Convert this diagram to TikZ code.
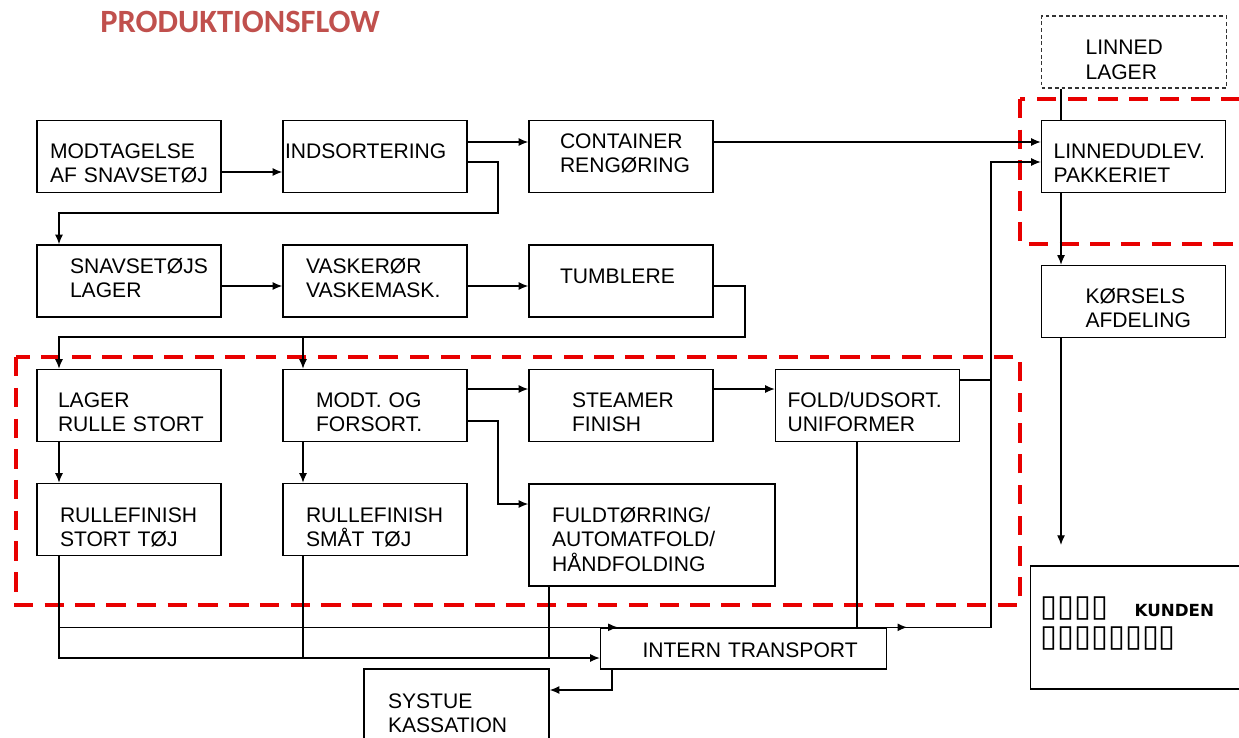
\documentclass[tikz,border=0pt]{standalone}
\usepackage{fontspec}
\setmainfont{Liberation Sans}
\newfontfamily\titlefont{Carlito}
\newfontfamily\symfont{DejaVu Sans}
\usetikzlibrary{arrows.meta}
\definecolor{titlered}{RGB}{192,80,77}
\definecolor{zonered}{RGB}{232,0,0}
\newcommand\tofu[1]{{\fontsize{17.5pt}{17.6pt}\selectfont #1}}

\begin{document}
\begin{tikzpicture}[
    x=0.02cm, y=-0.02cm,
    box/.style={draw=black, line width=0.8pt, minimum width=3.68cm,
        minimum height=1.44cm, inner sep=0pt, text width=3.68cm,
        align=left, font=\fontsize{12pt}{14.2pt}\selectfont, base=0.03cm},
    lpad/.style={execute at begin node={\leftskip=#1}},
    base/.style={text height=0.5cm+#1, text depth=0.5cm-#1},
    flow/.style={line width=0.7pt, -{Latex[length=5.5pt,width=4.5pt]}},
    link/.style={line width=0.7pt},
    zone/.style={draw=zonered, line width=2.8pt, dash pattern=on 11pt off 6.5pt}
]
    \clip (0,0) rectangle (1239,737);
    \node[font=\titlefont\bfseries\fontsize{18.5pt}{20pt}\selectfont, text=titlered,
        anchor=base west, inner sep=0pt] (title) at (100,32) {PRODUKTIONSFLOW};

    % red zones
    \draw[zone] (16,357) rectangle (1020,605);
    \draw[zone] (1020,99) rectangle (1262,244);

    % boxes
    \node[box, lpad=0.26cm] (modt) at (129,156.5) {MODTAGELSE\\AF SNAVSETØJ};
    \node[box, lpad=0.04cm] (indsort) at (375,156.5) {INDSORTERING};
    \node[box, lpad=0.62cm, base=-0.17cm] (cont) at (621,156.5) {CONTAINER\\RENGØRING};
    \node[box, lpad=0.88cm, base=0.06cm, draw=black!80, line width=0.6pt,
        dash pattern=on 2.2pt off 1.6pt, minimum width=3.7cm, text width=3.7cm]
        (llager) at (1134,52) {LINNED\\LAGER};
    \node[box, lpad=0.24cm] (lpak) at (1133.5,156.5) {LINNEDUDLEV.\\PAKKERIET};
    \node[box, lpad=0.66cm, base=-0.16cm] (snav) at (129,281) {SNAVSETØJS\\LAGER};
    \node[box, lpad=0.46cm, base=-0.16cm] (vask) at (375,281) {VASKERØR\\VASKEMASK.};
    \node[box, lpad=0.62cm, base=0.04cm] (tumb) at (621,281) {TUMBLERE};
    \node[box, lpad=0.88cm] (kors) at (1133.5,301.5) {KØRSELS\\AFDELING};
    \node[box, lpad=0.42cm] (lager) at (129,405.5) {LAGER\\RULLE STORT};
    \node[box, lpad=0.66cm] (forsort) at (375,405.5) {MODT. OG\\FORSORT.};
    \node[box, lpad=0.86cm] (steam) at (621,405.5) {STEAMER\\FINISH};
    \node[box, lpad=0.24cm] (fold) at (867.5,405.5) {FOLD/UDSORT.\\UNIFORMER};
    \node[box, lpad=0.46cm, base=0.05cm] (rfstor) at (129,519.5) {RULLEFINISH\\STORT TØJ};
    \node[box, lpad=0.46cm, base=0.05cm] (rfsmaa) at (375,519.5) {RULLEFINISH\\SMÅT TØJ};
    \node[box, lpad=0.46cm, base=-0.26cm, minimum width=4.92cm, text width=4.92cm,
        minimum height=2.04cm] (fuld) at (652,535) {FULDTØRRING/\\AUTOMATFOLD/\\HÅNDFOLDING};
    \node[box, lpad=0.84cm, text height=0.47cm, text depth=0.13cm, minimum width=5.72cm,
        text width=5.72cm, minimum height=0.82cm] (itrans) at (743.5,648.5) {INTERN TRANSPORT};
    \node[box, lpad=0.48cm, base=-0.06cm, minimum width=3.7cm, text width=3.7cm,
        minimum height=1.68cm] (systue) at (456.5,711) {SYSTUE\\KASSATION};
    \node[box, lpad=0.2cm, base=-0.23cm, minimum width=4.6cm, text width=4.6cm,
        minimum height=2.46cm, font=\symfont\fontsize{9.5pt}{17.6pt}\selectfont]
        (kunden) at (1145.5,627.5)
        {\tofu{▯▯▯▯}\hspace{0.53cm}\textbf{KUNDEN}\\\tofu{▯▯▯▯▯▯▯▯}};

    % flow
    \draw[flow] (modt.east |- 0,172) -- (indsort.west |- 0,172);
    \draw[flow] (indsort.east |- 0,142) -- (cont.west |- 0,142);
    \draw[flow] (indsort.east |- 0,162) -| (498,213) -| (snav.north -| 59,0);
    \draw[flow] (cont.east |- 0,142) -- (lpak.west |- 0,142);
    \draw[link] (llager.south -| 1061,0) -- (lpak.north -| 1061,0);
    \draw[flow] (lpak.south -| 1061,0) -- (kors.north -| 1061,0);
    \coordinate (drop) at (1061,545);
    \draw[flow] (kors.south -| 1061,0) -- (drop);
    \draw[flow] (snav.east |- 0,286) -- (vask.west |- 0,286);
    \draw[flow] (vask.east |- 0,286) -- (tumb.west |- 0,286);
    \draw[flow] (tumb.east |- 0,286) -| (745,337) -| (lager.north -| 59,0);
    \draw[flow] (303,337) -- (forsort.north -| 303,0);
    \draw[flow] (lager.south -| 59,0) -- (rfstor.north -| 59,0);
    \draw[flow] (forsort.south -| 303,0) -- (rfsmaa.north -| 303,0);
    \draw[flow] (forsort.east |- 0,389) -- (steam.west |- 0,389);
    \draw[flow] (forsort.east |- 0,421) -| (498,504) -- (fuld.west |- 0,504);
    \draw[flow] (steam.east |- 0,389) -- (fold.west |- 0,389);
    \draw[link] (fold.east |- 0,380) -- (991,380);
    \draw[link] (fold.south -| 857,0) -- (itrans.north -| 857,0);

    % intern transport
    \draw[flow] (rfstor.south -| 59,0) |- (itrans.west |- 0,658);
    \draw[flow] (59,0 |- itrans.north) -- ([xshift=0.36cm]itrans.north west);
    \draw[link] (rfsmaa.south -| 303,0) -- (303,658);
    \draw[link] (fuld.south -| 549,0) -- (549,658);
    \draw[flow] (itrans.north east) -- ++(20,0);
    \draw[flow] (itrans.north east) -| (991,162) -- (lpak.west |- 0,162);
    \draw[flow] (itrans.south -| 612,0) |- (systue.east |- 0,690);
\end{tikzpicture}
\end{document}
